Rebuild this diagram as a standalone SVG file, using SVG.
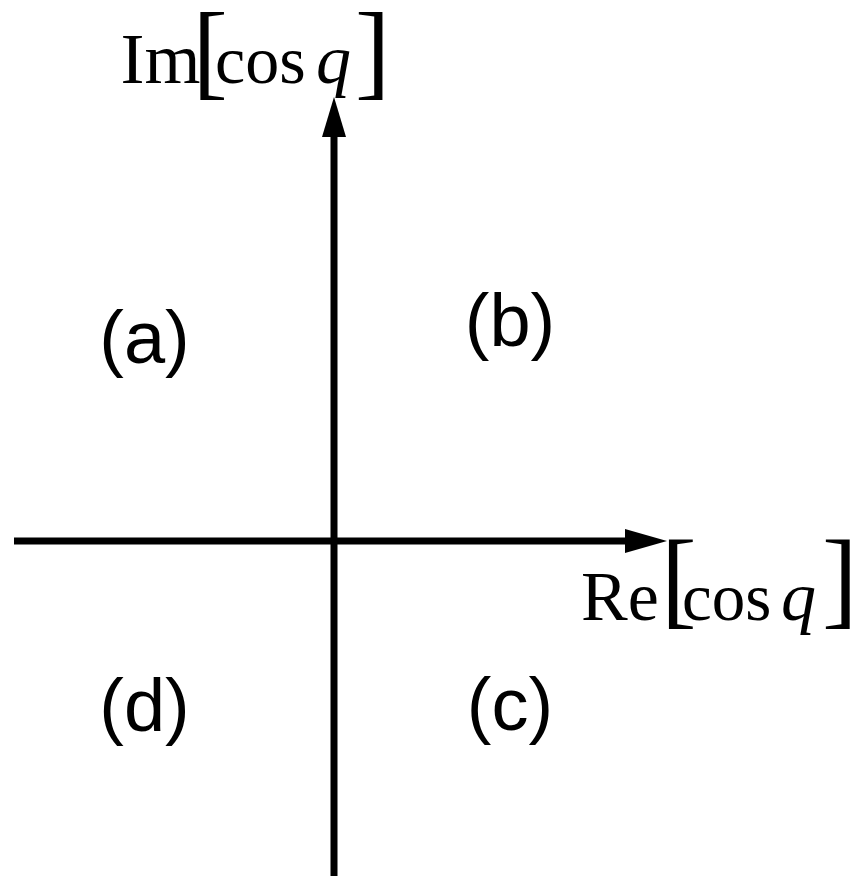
<svg xmlns="http://www.w3.org/2000/svg" width="853" height="876" viewBox="0 0 853 876">
<style>
.ax{stroke:#000;stroke-width:7;fill:none}
.ah{fill:#000}
.serif{font-family:"Liberation Serif","Times New Roman",serif;fill:#000}
.it{font-style:italic}
.q{font-family:"Liberation Sans",Arial,sans-serif;font-size:74px;fill:#000;text-anchor:middle}
</style>
<rect width="853" height="876" fill="#fff"/>
<g id="connectors">
<line class="ax" x1="334" y1="876" x2="334" y2="130"/>
<polygon class="ah" points="334,97 322,137 346,137"/>
<line class="ax" x1="14" y1="541" x2="632" y2="541"/>
<polygon class="ah" points="667,541 625,529 625,553"/>
</g>
<g id="label-im">
<text class="serif" x="120.5" y="83" font-size="72">Im</text>
<text class="serif" x="192.5" y="86" font-size="106">[</text>
<text class="serif" x="215" y="83" font-size="68">cos</text>
<text class="serif it" x="316" y="83" font-size="70">q</text>
<text class="serif" x="355" y="86" font-size="106">]</text>
</g>
<g id="label-re">
<text class="serif" x="581" y="620" font-size="70">Re</text>
<text class="serif" x="661" y="615" font-size="107">[</text>
<text class="serif" x="682" y="620" font-size="67">cos</text>
<text class="serif it" x="781" y="620" font-size="70">q</text>
<text class="serif" x="822" y="615" font-size="107">]</text>
</g>
<g id="quad-a"><text class="q" x="144.5" y="363">(a)</text></g>
<g id="quad-b"><text class="q" x="510" y="346">(b)</text></g>
<g id="quad-c"><text class="q" x="510" y="730">(c)</text></g>
<g id="quad-d"><text class="q" x="144.5" y="731">(d)</text></g>
</svg>
